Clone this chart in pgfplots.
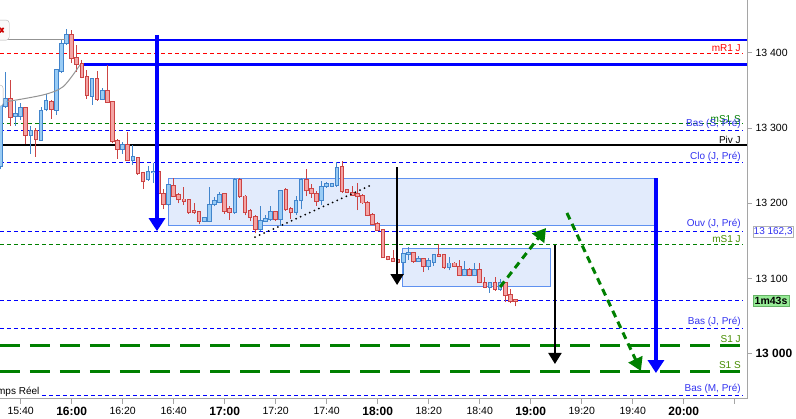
\documentclass[border=0pt]{standalone}
\usepackage{fontspec}
\setmainfont{Liberation Sans}
\usepackage{pgfplots}
\usepackage{pgfplotstable}
\pgfplotsset{compat=1.18}
\usetikzlibrary{arrows.meta}

\definecolor{bullfill}{RGB}{153,204,245}
\definecolor{bullline}{RGB}{66,133,204}
\definecolor{bearfill}{RGB}{244,164,164}
\definecolor{bearline}{RGB}{204,68,68}
\definecolor{zonefill}{RGB}{226,235,252}
\definecolor{zoneline}{RGB}{95,145,240}
\definecolor{lvlgreen}{RGB}{0,128,0}
\definecolor{lblgreen}{RGB}{70,140,0}
\definecolor{lblblue}{RGB}{50,50,240}
\definecolor{axgray}{RGB}{165,165,165}
\definecolor{cdgreen}{RGB}{150,235,150}

% 2-minute candles, t = minutes after 15:00
\pgfplotstableread{
t o h l c
32 13249 13345 13245 13330
34 13329 13375 13327 13338
38 13316 13336 13303 13318
40 13316 13333 13311 13326
44 13291 13302 13266 13296
48 13284 13328 13283 13323
50 13325 13345 13322 13336
54 13324 13379 13317 13377
56 13376 13417 13373 13412
58 13413 13432 13410 13423
68 13343 13366 13331 13365
72 13339 13353 13337 13349
80 13272 13282 13266 13277
84 13257 13277 13251 13261
90 13232 13249 13230 13241
92 13241 13253 13227 13242
98 13199 13226 13197 13224
112 13177 13182 13175 13180
114 13177 13221 13175 13198
116 13199 13208 13196 13203
118 13202 13215 13200 13211
124 13188 13233 13186 13231
134 13166 13196 13163 13177
136 13177 13184 13175 13179
138 13179 13196 13177 13189
142 13179 13218 13170 13216
148 13189 13209 13185 13203
150 13204 13233 13192 13231
158 13204 13229 13198 13222
160 13223 13228 13220 13225
162 13223 13227 13221 13225
164 13224 13255 13222 13247
190 13122 13134 13105 13133
192 13133 13142 13125 13134
196 13123 13130 13122 13126
200 13117 13127 13111 13123
202 13122 13133 13117 13131
208 13115 13128 13111 13120
214 13105 13123 13104 13112
218 13105 13121 13104 13112
224 13089 13096 13081 13094
228 13086 13100 13084 13094
}\bull

\pgfplotstableread{
t o h l c
36 13338 13364 13303 13315
42 13326 13328 13279 13291
46 13296 13300 13262 13285
52 13334 13337 13312 13325
60 13423 13430 13386 13393
62 13393 13410 13375 13385
64 13385 13390 13366 13368
66 13368 13377 13339 13344
70 13365 13376 13336 13339
74 13349 13383 13333 13335
76 13335 13336 13280 13283
78 13283 13286 13259 13272
82 13277 13295 13256 13257
86 13260 13262 13238 13240
88 13240 13242 13219 13229
94 13241 13243 13210 13213
96 13212 13219 13192 13199
100 13223 13234 13208 13210
102 13211 13214 13200 13205
104 13205 13221 13198 13203
106 13204 13206 13186 13189
108 13190 13200 13186 13188
110 13188 13190 13172 13177
120 13212 13214 13186 13190
122 13192 13197 13178 13188
126 13231 13234 13207 13209
128 13209 13211 13184 13188
130 13190 13192 13176 13182
132 13182 13184 13160 13166
140 13189 13190 13176 13179
144 13218 13220 13190 13192
146 13192 13195 13179 13188
152 13231 13246 13209 13217
154 13219 13226 13207 13213
156 13212 13216 13197 13203
166 13248 13256 13214 13216
168 13218 13219 13213 13215
170 13214 13223 13210 13211
172 13212 13227 13191 13209
174 13210 13212 13199 13201
176 13201 13203 13183 13185
178 13185 13187 13171 13173
180 13173 13175 13163 13165
182 13165 13166 13127 13128
184 13128 13130 13124 13126
186 13126 13138 13122 13123
188 13124 13126 13120 13122
194 13134 13135 13121 13123
198 13126 13127 13109 13117
204 13131 13146 13129 13130
206 13131 13132 13113 13115
210 13120 13122 13115 13117
212 13115 13125 13104 13105
216 13112 13114 13103 13105
220 13112 13120 13094 13095
222 13094 13102 13087 13089
226 13094 13102 13084 13086
230 13094 13096 13069 13078
232 13078 13086 13067 13070
234 13072 13072 13063 13070
}\bear

\tikzset{
  lvl/.style={line width=1pt, dash pattern=on 4pt off 3pt},
  bigdash/.style={line width=2.8pt, dash pattern=on 20pt off 10pt, lvlgreen},
  lbl/.style={anchor=south east, inner sep=1pt, font=\fontsize{10}{12}\selectfont},
}

\begin{document}
\begin{tikzpicture}
\begin{axis}[
  scale only axis,
  width=747pt, height=399pt,
  xmin=31.9, xmax=324.8,
  ymin=12940, ymax=13470,
  clip mode=individual,
  axis x line*=bottom, axis y line*=right,
  axis line style={draw=axgray, line width=1pt},
  tick style={draw=axgray, line width=0.8pt},
  tick align=outside,
  major tick length=5pt,
  xtick={40,60,...,320},
  xticklabels={15:40,{\fontsize{12}{14}\selectfont\bfseries 16:00},16:20,16:40,
    {\fontsize{12}{14}\selectfont\bfseries 17:00},17:20,17:40,
    {\fontsize{12}{14}\selectfont\bfseries 18:00},18:20,18:40,
    {\fontsize{12}{14}\selectfont\bfseries 19:00},19:20,19:40,
    {\fontsize{12}{14}\selectfont\bfseries 20:00},{}},
  ytick={13000,13100,13200,13300,13400},
  yticklabels={{\fontsize{12}{14}\selectfont\bfseries 13 000},13 100,13 200,13 300,13 400},
  ticklabel style={font=\fontsize{10.5}{12}\selectfont},
]

% zones
\addplot[fill=zonefill, draw=zoneline, line width=1pt] coordinates {(97.9,13233.2) (289.1,13233.2) (289.1,13169.8) (97.9,13169.8)} --cycle;
\addplot[fill=zonefill, draw=zoneline, line width=1pt] coordinates {(189.6,13140.2) (247.6,13140.2) (247.6,13088.8) (189.6,13088.8)} --cycle;

% levels
\addplot[blue, line width=2.5pt] coordinates {(59.7,13416.9) (324.8,13416.9)};
\addplot[blue, line width=2.5pt] coordinates {(63.7,13384.1) (324.8,13384.1)};
\addplot[red, lvl] coordinates {(31.9,13399.2) (323.3,13399.2)};
\addplot[lvlgreen, lvl] coordinates {(31.9,13306.2) (323.3,13306.2)};
\addplot[blue, lvl] coordinates {(31.9,13297.3) (323.3,13297.3)};
\addplot[black, line width=2pt] coordinates {(31.9,13277.4) (324.8,13277.4)};
\addplot[blue, lvl] coordinates {(31.9,13254.4) (323.3,13254.4)};
\addplot[blue, lvl] coordinates {(31.9,13162.3) (323.3,13162.3)};
\addplot[lvlgreen, lvl] coordinates {(31.9,13144.6) (323.3,13144.6)};
\addplot[blue, lvl] coordinates {(31.9,13070.2) (323.3,13070.2)};
\addplot[blue, lvl] coordinates {(31.9,13033.0) (323.3,13033.0)};
\addplot[bigdash] coordinates {(31.9,13010.8) (324.8,13010.8)};
\addplot[bigdash] coordinates {(31.9,12976.3) (324.8,12976.3)};
\addplot[blue, lvl] coordinates {(31.9,12944.0) (323.3,12944.0)};

% candles: wicks, body borders, body fills
\addplot[quiver={u=0, v=\thisrow{h}-\thisrow{l}}, draw=bullline, line width=1pt] table[x=t, y=l] {\bull};
\addplot[quiver={u=0, v=\thisrow{h}-\thisrow{l}}, draw=bearline, line width=1pt] table[x=t, y=l] {\bear};
\addplot[quiver={u=0, v=\thisrow{c}-\thisrow{o}+2.6}, draw=bullline, line width=4.6pt] table[x=t, y expr=\thisrow{o}-1.3] {\bull};
\addplot[quiver={u=0, v=\thisrow{o}-\thisrow{c}+2.6}, draw=bearline, line width=4.6pt] table[x=t, y expr=\thisrow{c}-1.3] {\bear};
\addplot[quiver={u=0, v=\thisrow{c}-\thisrow{o}}, draw=bullfill, line width=2.6pt] table[x=t, y=o] {\bull};
\addplot[quiver={u=0, v=\thisrow{o}-\thisrow{c}}, draw=bearfill, line width=2.6pt] table[x=t, y=c] {\bear};

% drawings
\addplot[black, line width=2pt, dash pattern=on 0pt off 5pt, line cap=round] coordinates {(131.9,13155) (177.4,13224)};
\addplot[blue, line width=4pt, -{Triangle[width=16pt,length=13pt]}] coordinates {(93.46,13423.5) (93.46,13163)};
\addplot[blue, line width=4pt, -{Triangle[width=16pt,length=13pt]}] coordinates {(289.1,13233.2) (289.1,12974.5)};
\addplot[black, line width=2pt, -{Triangle[width=13pt,length=11pt]}] coordinates {(187.6,13247.8) (187.6,13091.4)};
\addplot[black, line width=2pt, -{Triangle[width=13pt,length=11pt]}] coordinates {(249.5,13144.6) (249.5,12986.5)};
\addplot[lvlgreen, line width=3pt, dash pattern=on 7pt off 5pt, -{Triangle[width=15pt,length=13pt]}] coordinates {(228.0,13088.8) (246.0,13167.1)};
\addplot[lvlgreen, line width=3pt, dash pattern=on 7pt off 5pt, -{Triangle[width=15pt,length=13pt]}] coordinates {(254.2,13187.1) (283.2,12977.2)};

% leftover widgets at the top left
\addplot[gray!85, line width=1pt] coordinates {(31.9,13417) (57.4,13417)};
\addplot[gray!85, line width=1pt, smooth] coordinates {(34.5,13335) (48.9,13344) (56.7,13355) (63.3,13384)};
\node[draw=gray!60, fill=gray!4, rounded corners=3pt, minimum width=30pt, minimum height=20pt, anchor=east] at (axis cs:35.6,13430) {};
\draw[red!80!black, line width=1.6pt] (axis cs:31.9,13427) -- (axis cs:33.3,13433) (axis cs:31.9,13433) -- (axis cs:33.3,13427);
\node[draw=gray!60, fill=white, rounded corners=3pt, minimum width=20pt, minimum height=21pt, anchor=east] at (axis cs:33.2,13343) {};
\node[anchor=base east, fill=white, inner sep=1pt, font=\fontsize{10}{12}\selectfont] at (axis cs:47.8,12946) {Temps Réel};

% level labels
\node[lbl, text=red] at (axis cs:322.8,13399.2) {mR1 J};
\node[lbl, text=lvlgreen] at (axis cs:322.8,13306.2) {mS1 S};
\node[lbl, text=lblblue] at (axis cs:322.8,13297.3) {Bas (S, Pré)};
\node[lbl, text=black] at (axis cs:322.8,13277.4) {Piv J};
\node[lbl, text=lblblue] at (axis cs:322.8,13254.4) {Clo (J, Pré)};
\node[lbl, text=lblblue] at (axis cs:322.8,13165) {Ouv (J, Pré)};
\node[lbl, text=lblgreen] at (axis cs:322.8,13146) {mS1 J};
\node[lbl, text=lblblue] at (axis cs:322.8,13034) {Bas (J, Pré)};
\node[lbl, text=lblgreen] at (axis cs:322.8,13013) {S1 J};
\node[lbl, text=lblgreen] at (axis cs:322.8,12978.5) {S1 S};
\node[lbl, text=lblblue] at (axis cs:322.8,12945) {Bas (M, Pré)};

% price tags on the scale
\node[anchor=west, xshift=5.5pt, draw=gray!60, fill=white, text=lblblue, inner sep=1pt, font=\fontsize{10}{12}\selectfont] at (axis cs:324.8,13162.3) {13 162,3};
\node[anchor=west, xshift=5.5pt, draw=lvlgreen!60, fill=cdgreen, inner sep=2pt, font=\fontsize{10.5}{12}\selectfont\bfseries] at (axis cs:324.8,13070.5) {1m43s};
\end{axis}
\pgfresetboundingbox
\path (current axis.south west) ++(0pt,-20pt) rectangle ++(796pt,419pt);
\end{tikzpicture}
\end{document}
